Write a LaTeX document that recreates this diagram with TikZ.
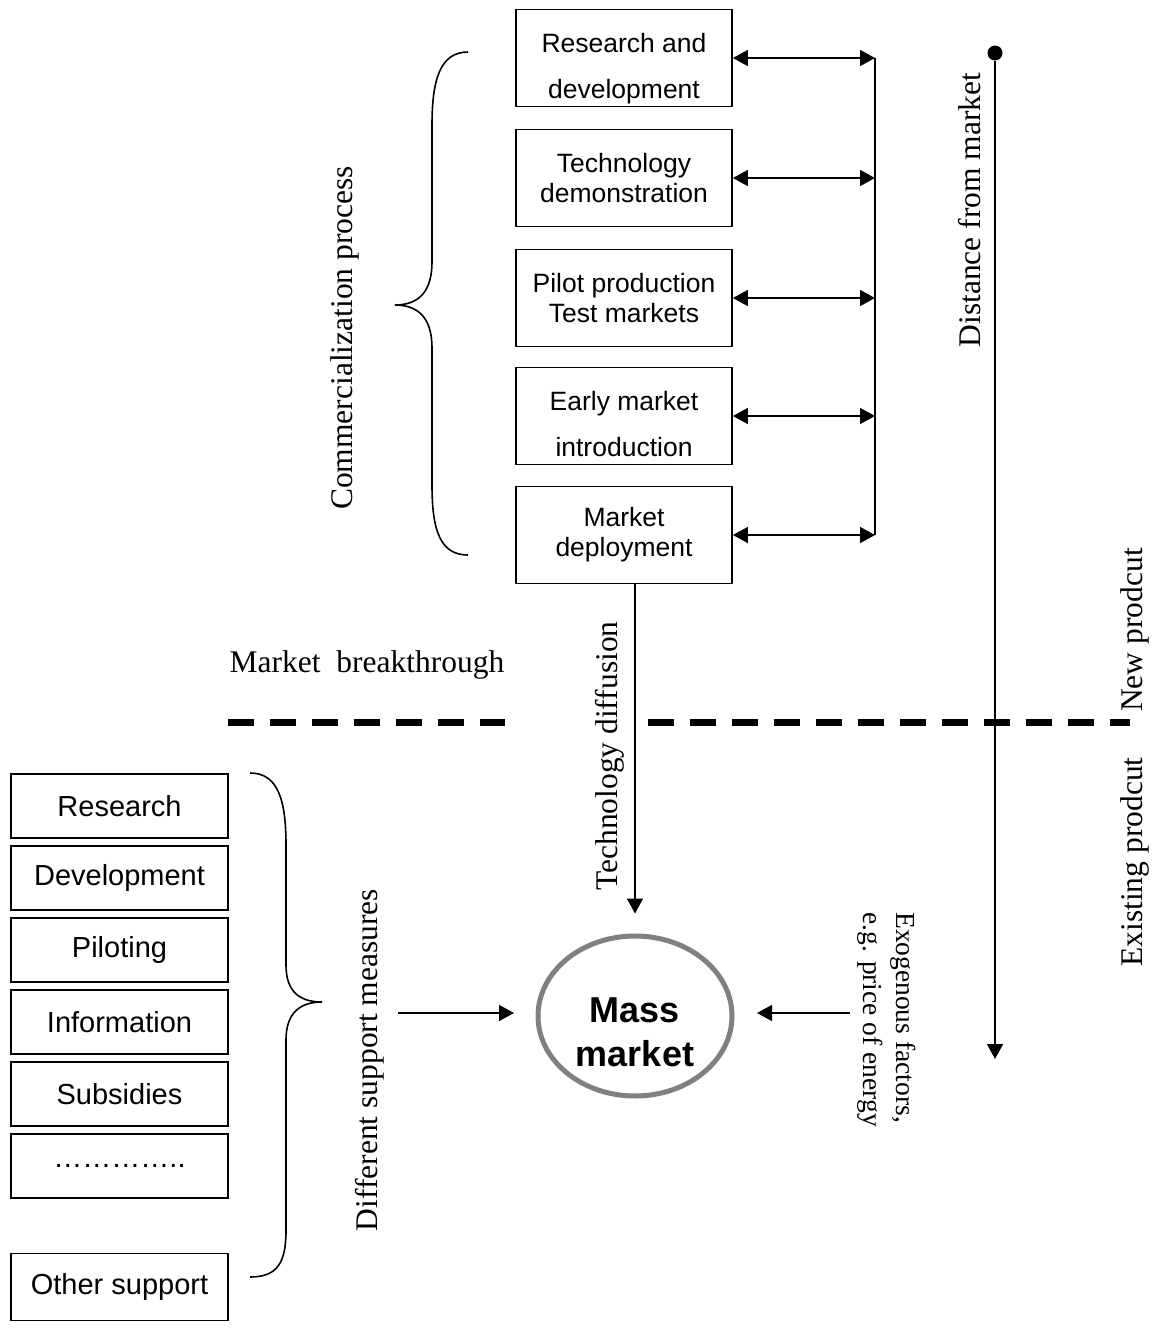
\documentclass[tikz,border=0pt]{standalone}
\usepackage{fontspec}
\setmainfont{Liberation Serif}
\setsansfont{Liberation Sans}
\usetikzlibrary{arrows.meta,positioning,shapes.geometric}

\tikzset{
    topbox/.style={draw, line width=1.8pt, minimum width=216pt, minimum height=97pt, inner sep=0pt,
        align=center, font=\sffamily\fontsize{26.5pt}{30pt}\selectfont},
    toptext/.style={align=center, inner sep=0pt, font=\sffamily\fontsize{26.5pt}{30pt}\selectfont},
    sidebox/.style={draw, line width=1.8pt, minimum width=217pt, minimum height=64pt, inner sep=0pt,
        font=\sffamily\fontsize{29pt}{33pt}\selectfont},
    lbl/.style={inner sep=0pt, font=\fontsize{31.5pt}{36pt}\selectfont},
    tip/.style={-{Triangle[length=15pt,width=16pt]}, line width=1.5pt},
    dbltip/.style={{Triangle[length=15pt,width=16pt]}-{Triangle[length=15pt,width=16pt]}, line width=1.5pt},
    brace/.style={line width=1.6pt},
    cut/.style={line width=7pt, dash pattern=on 26pt off 16pt}
}

\begin{document}
\begin{tikzpicture}[x=1pt, y=-1pt]
    \useasboundingbox (0,0) rectangle (1162,1328);

    % commercialization steps
    \node[topbox] (rd) at (624,58) {};
    \node[toptext] (rdtext) at ([yshift=-11pt]rd.center) {Research and\\[16pt]development};
    \node[topbox] (td) at (624,178) {Technology\\demonstration};
    \node[topbox] (pp) at (624,298) {Pilot production\\Test markets};
    \node[topbox] (em) at (624,416) {};
    \node[toptext] (emtext) at ([yshift=-8pt]em.center) {Early market\\[16pt]introduction};
    \node[topbox] (md) at (624,535) {Market\\deployment};

    \coordinate (bus) at (875,0);
    \draw[dbltip] (rd.east) -- (rd.east -| bus);
    \draw[dbltip] (td.east) -- (td.east -| bus);
    \draw[dbltip] (pp.east) -- (pp.east -| bus);
    \draw[dbltip] (em.east) -- (em.east -| bus);
    \draw[dbltip] (md.east) -- (md.east -| bus);
    \draw[line width=1.5pt] (rd.east -| bus) -- (md.east -| bus);

    \draw[brace] (468,52) .. controls (440,52) and (432,80) .. (432,125) -- (432,262)
        .. controls (432,290) and (420,305) .. (395,305)
        .. controls (420,305) and (432,320) .. (432,348) -- (432,485)
        .. controls (432,530) and (440,555) .. (468,555);
    \node[lbl, rotate=90] (comm) at (345,338) {Commercialization process};

    % distance from market
    \node[circle, fill, inner sep=0pt, minimum size=15pt] (near) at (995,53) {};
    \coordinate (far) at (995,1059);
    \draw[tip] (near) -- (far);
    \node[lbl, rotate=90] (dist) at (970,210) {Distance from market};

    % breakthrough line
    \draw[cut] (228,722) -- (505,722);
    \draw[cut] (648,722) -- (1130,722);
    \node[lbl] (mb) at (367,665) {Market\ \ breakthrough};
    \node[lbl, rotate=90] (newp) at (1135,630) {New prodcut};
    \node[lbl, rotate=90] (oldp) at (1135,862) {Existing prodcut};

    % mass market
    \node[ellipse, draw=gray, line width=5pt, minimum width=194pt, minimum height=160pt] (mass) at (635,1016) {};
    \node[inner sep=0pt, align=center, font=\sffamily\bfseries\fontsize{36pt}{44pt}\selectfont] (masstext)
        at ([yshift=-16pt]mass.center) {Mass\\market};
    \draw[tip, shorten >=20pt] (md.south -| mass.north) -- (mass.north);
    \node[lbl, rotate=90] (diff) at (610,756) {Technology diffusion};

    % support measures
    \node[sidebox] (res) at (119.5,806) {Research};
    \node[sidebox] (dev) at (119.5,878) {Development};
    \node[sidebox] (pil) at (119.5,950) {Piloting};
    \node[sidebox] (inf) at (119.5,1022) {Information};
    \node[sidebox] (sub) at (119.5,1094) {Subsidies};
    \node[sidebox] (etc) at (119.5,1166) {…………..};
    \node[sidebox, minimum height=67pt] (oth) at (119.5,1287) {Other support};

    \draw[brace] (250,773) .. controls (278,773) and (286,800) .. (286,845) -- (286,965)
        .. controls (286,990) and (298,1002) .. (322,1002)
        .. controls (298,1002) and (286,1015) .. (286,1040) -- (286,1230)
        .. controls (286,1262) and (278,1277) .. (250,1277);
    \node[lbl, rotate=90] (dsm) at (370,1060) {Different support measures};
    \coordinate (dsmend) at (398,1013);
    \draw[tip] (dsmend) -- (514,1013);

    % exogenous factors
    \node[inner sep=0pt, rotate=-90, anchor=west, align=left, font=\fontsize{27.5pt}{33pt}\selectfont] (exo)
        at (887,912) {Exogenous factors,\\e.g. price of energy};
    \coordinate (exoend) at (850,1013);
    \draw[tip] (exoend) -- (757,1013);
\end{tikzpicture}
\end{document}
